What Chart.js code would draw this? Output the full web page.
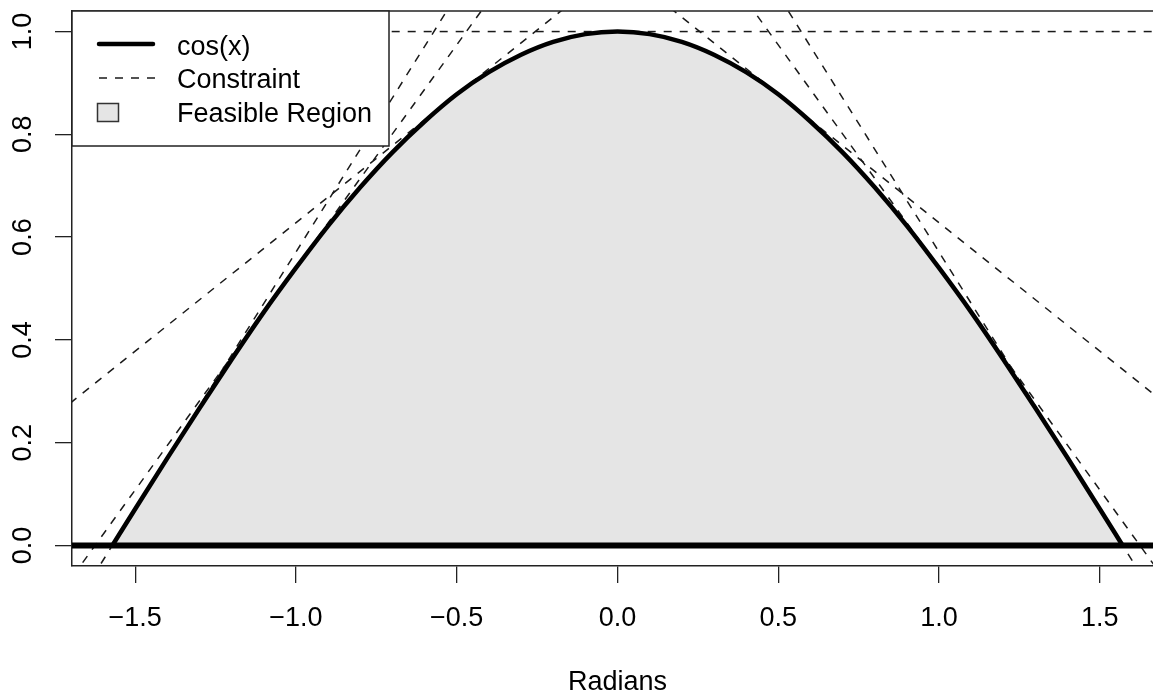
<!DOCTYPE html>
<html>
<head>
<meta charset="utf-8">
<script src="https://cdn.jsdelivr.net/npm/chart.js@4"></script>
<style>
html,body{margin:0;padding:0;overflow:hidden;background:#fff;}
canvas{display:block;}
</style>
</head>
<body>
<canvas id="c" width="1170" height="696"></canvas>
<script>
// ---- data ----
const radians = [-1.571,-1.5,-1.4,-1.3,-1.2,-1.1,-1.0,-0.9,-0.8,-0.7,-0.6,-0.5,-0.4,-0.3,-0.2,-0.1,0.0,
                 0.1,0.2,0.3,0.4,0.5,0.6,0.7,0.8,0.9,1.0,1.1,1.2,1.3,1.4,1.5,1.571];
const cosValues = [0.000,0.071,0.170,0.267,0.362,0.454,0.540,0.622,0.697,0.765,0.825,0.878,0.921,0.955,0.980,0.995,1.000,
                   0.995,0.980,0.955,0.921,0.878,0.825,0.765,0.697,0.622,0.540,0.454,0.362,0.267,0.170,0.071,0.000];
// constraint (tangent) lines y = slope * x + intercept
const constraintSlopes     = [0, 0.5, -0.5, 0.866, -0.866, 1, -1];
const constraintIntercepts = [1, 1.128, 1.128, 1.407, 1.407, 1.571, 1.571];
const baselineValue = 0;
const xTicks = [-1.5, -1.0, -0.5, 0.0, 0.5, 1.0, 1.5];
const yTicks = [0.0, 0.2, 0.4, 0.6, 0.8, 1.0];
const xRange = [-1.6965, 1.6965];
const yRange = [-0.04, 1.04];
const legendLabels = ['cos(x)', 'Constraint', 'Feasible Region'];
const axisTitle = 'Radians';

// ---- styles ----
const FONT = "'Liberation Sans', Arial, Helvetica, sans-serif";
const FS = 27;
const DASH = [8, 8];
const FILL = '#e5e5e5';
const INK = '#000';

const pts = radians.map((x, i) => ({x: x, y: cosValues[i]}));
const ext = [xRange[0] - 0.2, xRange[1] + 0.2];

const datasets = [];
datasets.push({label: legendLabels[2], data: pts, borderWidth: 0, pointRadius: 0,
  backgroundColor: FILL, fill: 'origin', cubicInterpolationMode: 'monotone', order: 4});
constraintSlopes.forEach((m, i) => {
  const b = constraintIntercepts[i];
  datasets.push({label: legendLabels[1], data: ext.map(x => ({x: x, y: m * x + b})),
    borderColor: '#1a1a1a', borderWidth: 1.5, borderDash: DASH, pointRadius: 0, fill: false,
    clip: 0, order: 3});
});
datasets.push({label: legendLabels[0], data: pts, borderColor: INK, borderWidth: 4.5, pointRadius: 0,
  fill: false, cubicInterpolationMode: 'monotone', borderCapStyle: 'round', borderJoinStyle: 'round', order: 2});
datasets.push({label: 'zero', data: ext.map(x => ({x: x, y: baselineValue})), borderColor: INK, borderWidth: 6,
  pointRadius: 0, fill: false, clip: 0, order: 1});

const fmt = v => (v < 0 ? '\u2212' : '') + Math.abs(v).toFixed(1);

const boxAndLegend = {
  id: 'boxAndLegend',
  afterDraw(chart) {
    const {ctx, chartArea: a} = chart;
    ctx.save();
    ctx.strokeStyle = '#222';
    ctx.lineWidth = 1.5;
    ctx.setLineDash([]);
    ctx.beginPath();
    ctx.moveTo(a.left, a.top);
    ctx.lineTo(a.right, a.top);
    ctx.stroke();
    // legend box
    const lx = a.left, ly = a.top, lw = 317, lh = 135;
    ctx.fillStyle = '#fff';
    ctx.fillRect(lx, ly, lw, lh);
    ctx.strokeRect(lx, ly, lw, lh);
    const sx0 = lx + 25, sx1 = lx + 83, tx = lx + 105;
    // cos(x) sample
    ctx.strokeStyle = INK; ctx.lineWidth = 4.5; ctx.lineCap = 'round';
    ctx.beginPath(); ctx.moveTo(sx0 + 2, ly + 33); ctx.lineTo(sx1 - 2, ly + 33); ctx.stroke();
    // constraint sample
    ctx.lineCap = 'butt'; ctx.lineWidth = 1.5; ctx.strokeStyle = '#1a1a1a'; ctx.setLineDash(DASH);
    ctx.beginPath(); ctx.moveTo(sx0 + 2, ly + 67); ctx.lineTo(sx1, ly + 67); ctx.stroke();
    ctx.setLineDash([]);
    // region sample
    ctx.fillStyle = FILL; ctx.strokeStyle = '#333'; ctx.lineWidth = 1.5;
    ctx.fillRect(sx0 + 0.5, ly + 92.5, 21, 18);
    ctx.strokeRect(sx0 + 0.5, ly + 92.5, 21, 18);
    // texts
    ctx.fillStyle = INK;
    ctx.font = FS + 'px ' + FONT;
    ctx.textAlign = 'left';
    ctx.textBaseline = 'alphabetic';
    ctx.fillText(legendLabels[0], tx, ly + 44);
    ctx.fillText(legendLabels[1], tx, ly + 77);
    ctx.fillText(legendLabels[2], tx, ly + 111);
    ctx.restore();
  }
};

new Chart(document.getElementById('c'), {
  type: 'line',
  data: {datasets: datasets},
  plugins: [boxAndLegend],
  options: {
    responsive: false,
    animation: false,
    devicePixelRatio: 1,
    layout: {padding: {left: 0, top: 11, right: 7, bottom: 0}},
    plugins: {legend: {display: false}, tooltip: {enabled: false}},
    scales: {
      x: {
        type: 'linear', min: xRange[0], max: xRange[1],
        afterBuildTicks: s => { s.ticks = xTicks.map(v => ({value: v})); },
        afterFit: s => { s.height = 130; s.paddingLeft = 0; s.paddingRight = 0; },
        ticks: {callback: v => fmt(v), font: {family: FONT, size: FS}, color: INK, padding: 19,
                maxRotation: 0, minRotation: 0, autoSkip: false},
        grid: {drawOnChartArea: false, drawTicks: true, tickLength: 17, color: '#222', lineWidth: 1.3},
        border: {display: true, color: '#222', width: 1.5},
        title: {display: true, text: axisTitle, color: INK, padding: 0,
                font: {family: FONT, size: FS, lineHeight: 1}}
      },
      y: {
        type: 'linear', min: yRange[0], max: yRange[1],
        afterBuildTicks: s => { s.ticks = yTicks.map(v => ({value: v})); },
        afterFit: s => { s.width = 72; s.paddingTop = 0; s.paddingBottom = 0; },
        ticks: {callback: v => fmt(v), font: {family: FONT, size: FS}, color: INK, padding: 13,
                minRotation: 90, maxRotation: 90, crossAlign: 'center', autoSkip: false},
        grid: {drawOnChartArea: false, drawTicks: true, tickLength: 17, color: '#222', lineWidth: 1.3},
        border: {display: true, color: '#222', width: 1.5}
      }
    }
  }
});
</script>
</body>
</html>
